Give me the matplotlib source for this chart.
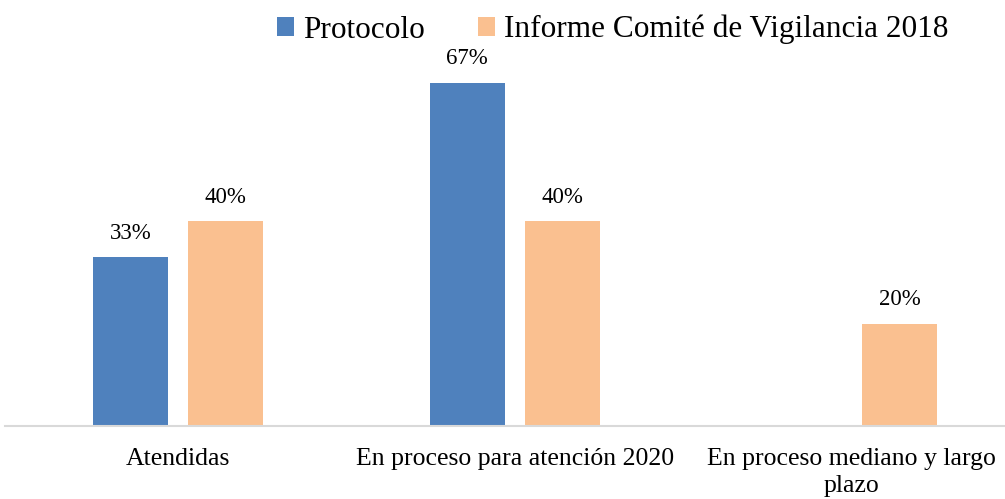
import matplotlib.pyplot as plt
import numpy as np

plt.rcParams['font.family'] = ['Liberation Serif', 'DejaVu Serif']

categorias = ['Atendidas', 'En proceso para atención 2020', 'En proceso mediano y largo\nplazo']
protocolo = [0.33, 0.67, 0.0]
informe = [0.40, 0.40, 0.20]
etiquetas_protocolo = ['33%', '67%', '']
etiquetas_informe = ['40%', '40%', '20%']
series = ['Protocolo', 'Informe Comité de Vigilancia 2018']

azul = '#4F81BD'
naranja = '#FAC090'

fig = plt.figure(figsize=(10.05, 4.99), dpi=100)
ax = fig.add_axes([5 / 1005, (499 - 426) / 499, 1000 / 1005, 410 / 499])

x = np.arange(len(categorias))
ancho = 0.2226
desp = 0.141

b1 = ax.bar(x - desp, protocolo, ancho, color=azul, label=series[0])
b2 = ax.bar(x + desp, informe, ancho, color=naranja, label=series[1])

# etiquetas de valor sobre cada barra
for barras, textos in [(b1, etiquetas_protocolo), (b2, etiquetas_informe)]:
    for rect, txt in zip(barras, textos):
        if txt:
            ax.annotate(txt, (rect.get_x() + rect.get_width() / 2, rect.get_height()),
                        xytext=(0, 9.5), textcoords='offset points',
                        ha='center', va='bottom', fontsize=16.5)

ax.set_xlim(-0.513, -0.513 + 1000 / 337)
ax.set_ylim(0, 0.8)
ax.set_xticks(x)
ax.set_xticklabels(categorias, fontsize=18.5, linespacing=1.3)
ax.tick_params(axis='x', length=0, pad=16)
ax.set_yticks([])
for s in ['top', 'right', 'left']:
    ax.spines[s].set_visible(False)
ax.spines['bottom'].set_color('#D9D9D9')
ax.spines['bottom'].set_linewidth(1.5)

ax.legend(loc='upper center', bbox_to_anchor=(613 / 1005, 1 - 15 / 499), bbox_transform=fig.transFigure,
          ncol=2, frameon=False, fontsize=22.5, handlelength=0.53, handleheight=0.53,
          handletextpad=0.3, columnspacing=1.7, borderpad=0, borderaxespad=0)

fig.savefig('out.png', dpi=100)
